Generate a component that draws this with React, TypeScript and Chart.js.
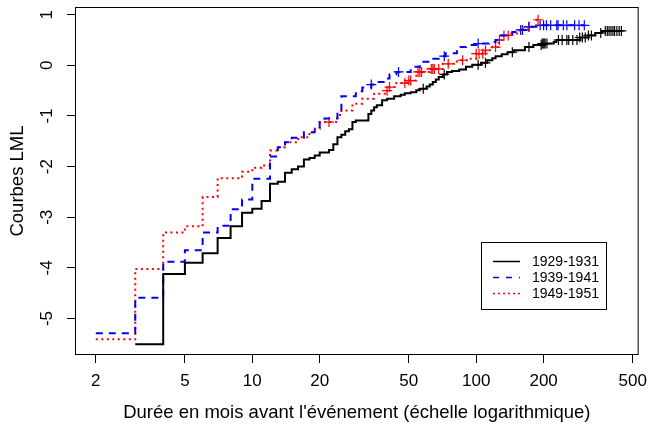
import React, { useEffect, useRef } from "react";
import { Chart, registerables } from "chart.js";

Chart.register(...registerables);

const FONT = '"Liberation Sans", Arial, Helvetica, sans-serif';

// Cohorts
const groupLabels = ["1929-1931", "1939-1941", "1949-1951"];
const groupColors = ["#000000", "#0000ff", "#ff0000"];
const groupDashes: number[][] = [[], [7, 6], [2, 3.5]];

// 1929-1931: event times (months) and log(-log(S)) after each event
const timesA = [3, 4, 5, 6, 7, 8, 9, 10, 11, 12, 13, 14, 15, 16, 17, 18, 19, 20, 22, 23, 24, 25, 26, 27, 28, 29, 33, 34, 35, 36, 38, 40, 43, 46, 48, 51, 54, 56, 60, 62, 64, 66, 68, 71, 74, 78, 84, 90, 96, 105, 112, 118, 122, 130, 138, 147, 165, 180, 197, 222, 228, 290, 317, 340, 364];
const lmlA = [-5.51, -4.12, -3.9, -3.71, -3.41, -3.18, -2.91, -2.83, -2.68, -2.34, -2.3, -2.12, -2.05, -2.0, -1.86, -1.83, -1.78, -1.72, -1.67, -1.56, -1.42, -1.37, -1.3, -1.26, -1.12, -1.09, -0.96, -0.89, -0.83, -0.79, -0.69, -0.66, -0.61, -0.58, -0.55, -0.53, -0.49, -0.46, -0.42, -0.38, -0.33, -0.28, -0.23, -0.18, -0.13, -0.11, -0.08, -0.03, 0.01, 0.05, 0.1, 0.14, 0.18, 0.22, 0.26, 0.3, 0.36, 0.4, 0.43, 0.46, 0.5, 0.55, 0.59, 0.64, 0.68];
const endA = 445;
const censA = [58, 72, 102, 110, 145, 172, 195, 197, 199, 201, 203, 207, 233, 242, 254, 259, 270, 282, 290, 298, 307, 317, 327, 360, 377, 385, 392, 400, 408, 415, 425, 435, 445];

// 1939-1941
const timesB = [2, 3, 4, 5, 6, 7, 8, 9, 10, 12, 13, 14, 15, 17, 19, 20, 21, 24, 25, 29, 31, 34, 36, 39, 41, 44, 51, 56, 62, 68, 73, 82, 90, 100, 114, 122, 129, 145, 154, 172, 193];
const lmlB = [-5.29, -4.59, -3.88, -3.65, -3.3, -3.17, -2.84, -2.65, -2.24, -1.8, -1.62, -1.52, -1.43, -1.32, -1.22, -1.12, -1.05, -0.92, -0.61, -0.51, -0.44, -0.38, -0.33, -0.26, -0.18, -0.13, -0.03, 0.07, 0.13, 0.18, 0.24, 0.36, 0.4, 0.43, 0.46, 0.5, 0.59, 0.66, 0.7, 0.76, 0.79];
const endB = 304;
const censB = [34, 45, 72, 102, 158, 161, 172, 193, 200, 206, 215, 229, 232, 245, 254, 275, 288, 304];

// 1949-1951
const timesC = [2, 3, 4, 5, 6, 7, 9, 10, 11, 12, 13, 14, 16, 18, 19, 20, 24, 25, 28, 31, 35, 39, 41, 44, 49, 54, 62, 71, 82, 93, 100, 110, 118, 126, 131, 141, 154, 161, 172, 182, 186];
const lmlC = [-5.41, -4.02, -3.3, -3.18, -2.6, -2.23, -2.1, -2.02, -1.98, -1.68, -1.62, -1.52, -1.42, -1.32, -1.25, -1.12, -0.98, -0.89, -0.76, -0.66, -0.56, -0.5, -0.43, -0.35, -0.3, -0.13, -0.07, 0.03, 0.1, 0.13, 0.23, 0.3, 0.36, 0.5, 0.59, 0.63, 0.69, 0.73, 0.76, 0.79, 0.9];
const endC = 189;
const censC = [22, 40, 41, 48, 50, 51, 55, 56, 57, 63, 64, 65, 68, 75, 87, 100, 103, 107, 110, 122, 127, 133, 139, 172, 189];

const xTicks = [2, 5, 10, 20, 50, 100, 200, 500];
const yTicks = [-5, -4, -3, -2, -1, 0, 1];
const xTitle = "Durée en mois avant l'événement (échelle logarithmique)";
const yTitle = "Courbes LML";

type Pt = { x: number; y: number };

function stepValue(times: number[], vals: number[], t: number): number {
  let v = vals[0];
  for (let i = 0; i < times.length; i++) if (times[i] <= t) v = vals[i];
  return v;
}

function curvePoints(times: number[], vals: number[], end: number): Pt[] {
  const pts = times.map((t, i) => ({ x: t, y: vals[i] }));
  pts.push({ x: end, y: vals[vals.length - 1] });
  return pts;
}

function censorPoints(times: number[], vals: number[], cens: number[]): Pt[] {
  return cens.map((t) => ({ x: t, y: stepValue(times, vals, t) }));
}

const groups = [
  { times: timesA, vals: lmlA, end: endA, cens: censA },
  { times: timesB, vals: lmlB, end: endB, cens: censB },
  { times: timesC, vals: lmlC, end: endC, cens: censC },
];

// Box, rotated y labels, axis titles and the inset legend
const framePlugin = {
  id: "frame",
  afterDraw(chart: any) {
    const { ctx, chartArea: a, scales } = chart;
    ctx.save();
    ctx.strokeStyle = "#000";
    ctx.lineWidth = 1;
    ctx.setLineDash([]);
    ctx.strokeRect(a.left + 0.5, a.top + 0.5, a.right - a.left - 1, a.bottom - a.top - 1);

    ctx.fillStyle = "#000";
    ctx.font = `17px ${FONT}`;
    ctx.textAlign = "center";
    ctx.textBaseline = "middle";
    const ys = scales.y;
    for (const v of yTicks) {
      const py = ys.getPixelForValue(v);
      ctx.save();
      ctx.translate(a.left - 28, py);
      ctx.rotate(-Math.PI / 2);
      ctx.fillText(String(v), 0, 0);
      ctx.restore();
    }

    ctx.font = `18.5px ${FONT}`;
    ctx.fillText(xTitle, (a.left + a.right) / 2, 413);
    ctx.save();
    ctx.translate(18, (a.top + a.bottom) / 2);
    ctx.rotate(-Math.PI / 2);
    ctx.fillText(yTitle, 0, 0);
    ctx.restore();

    // legend
    const lx = 481, ly = 242, lw = 125, lh = 67;
    ctx.fillStyle = "#fff";
    ctx.fillRect(lx, ly, lw, lh);
    ctx.strokeStyle = "#000";
    ctx.lineWidth = 1;
    ctx.strokeRect(lx + 0.5, ly + 0.5, lw, lh);
    ctx.font = `14px ${FONT}`;
    ctx.textAlign = "left";
    const rows = [261, 277, 293];
    groupLabels.forEach((lab, i) => {
      ctx.strokeStyle = groupColors[i];
      ctx.lineWidth = 1.5;
      ctx.setLineDash(i === 0 ? [] : i === 1 ? [6, 7] : [2, 3]);
      ctx.beginPath();
      ctx.moveTo(493, rows[i] + 0.5);
      ctx.lineTo(520, rows[i] + 0.5);
      ctx.stroke();
      ctx.setLineDash([]);
      ctx.fillStyle = "#000";
      ctx.fillText(lab, 532, rows[i] + 1);
    });
    ctx.restore();
  },
};

export default function App() {
  const ref = useRef<HTMLCanvasElement | null>(null);

  useEffect(() => {
    if (!ref.current) return;
    const datasets: any[] = [];
    groups.forEach((g, i) => {
      datasets.push({
        label: groupLabels[i],
        data: curvePoints(g.times, g.vals, g.end),
        showLine: true,
        stepped: true,
        borderColor: groupColors[i],
        borderWidth: 2,
        borderDash: groupDashes[i],
        pointRadius: 0,
        fill: false,
      });
    });
    groups.forEach((g, i) => {
      datasets.push({
        label: groupLabels[i] + " (censure)",
        data: censorPoints(g.times, g.vals, g.cens),
        showLine: false,
        pointStyle: "cross",
        pointRadius: 5,
        pointBorderWidth: 1.2,
        pointBorderColor: groupColors[i],
        borderColor: groupColors[i],
        backgroundColor: groupColors[i],
      });
    });

    const chart = new Chart(ref.current, {
      type: "scatter",
      data: { datasets },
      options: {
        animation: false,
        responsive: false,
        devicePixelRatio: 1,
        layout: { padding: { left: 0, top: 7, right: 11, bottom: 0 } },
        plugins: { legend: { display: false }, tooltip: { enabled: false } },
        scales: {
          x: {
            type: "logarithmic",
            min: 1.6148,
            max: 531.6,
            afterBuildTicks: (s: any) => {
              s.ticks = xTicks.map((v) => ({ value: v }));
            },
            afterFit: (s: any) => {
              s.height = 71;
            },
            border: { display: false },
            grid: { drawOnChartArea: false, drawTicks: true, tickLength: 8, tickColor: "#000", tickWidth: 1 },
            ticks: {
              autoSkip: false,
              maxRotation: 0,
              minRotation: 0,
              padding: 8,
              color: "#000",
              font: { family: FONT, size: 17 },
              callback: (v: any) => String(v),
            },
          },
          y: {
            type: "linear",
            min: -5.72,
            max: 1.152,
            afterBuildTicks: (s: any) => {
              s.ticks = yTicks.map((v) => ({ value: v }));
            },
            afterFit: (s: any) => {
              s.width = 75;
            },
            border: { display: false },
            grid: { drawOnChartArea: false, drawTicks: true, tickLength: 8, tickColor: "#000", tickWidth: 1 },
            ticks: { display: false },
          },
        },
      },
      plugins: [framePlugin],
    });
    return () => chart.destroy();
  }, []);

  return (
    <div style={{ position: "absolute", left: 0, top: 0, width: 655, height: 426, background: "#fff" }}>
      <canvas ref={ref} width={655} height={426} style={{ display: "block" }} />
    </div>
  );
}
